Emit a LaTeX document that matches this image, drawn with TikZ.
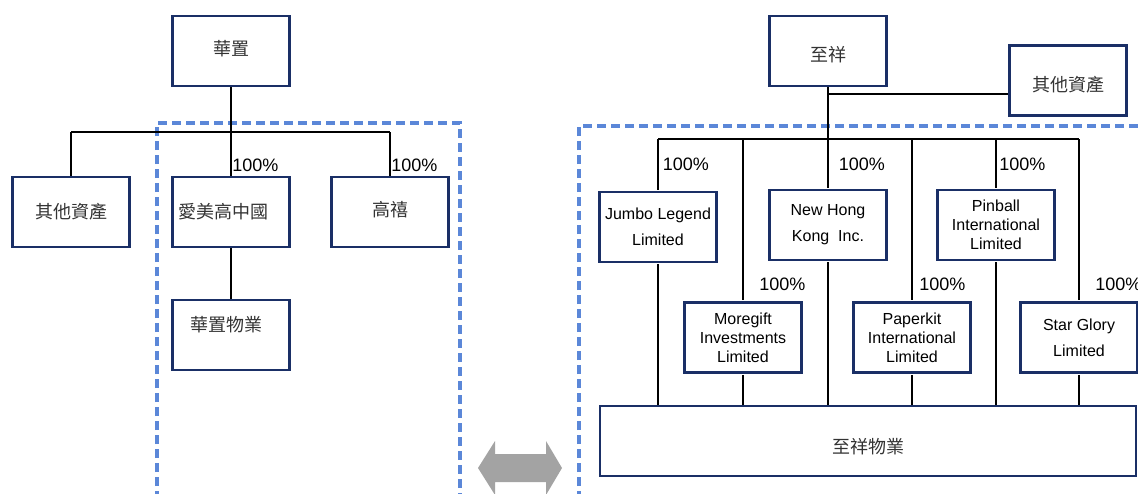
\documentclass[tikz,border=0pt]{standalone}
\usepackage{fontspec}
\setmainfont{Liberation Sans}
\newfontfamily\cjk{Noto Sans CJK TC}
\usepackage{tikz}
\usetikzlibrary{positioning, calc}

\definecolor{boxnavy}{HTML}{1A2F66}
\definecolor{groupblue}{HTML}{5B87D8}
\definecolor{arrowgray}{HTML}{A3A3A3}

% move a label inside its box without changing the box
\newcommand{\nudge}[2]{\raisebox{#1}[\height][\depth]{#2}}

\begin{document}
\begin{tikzpicture}[x=0.75pt, y=-0.75pt,
            company/.style={rectangle, draw=boxnavy, line width=1.9pt, fill=white, minimum width=87.75pt, minimum height=52.5pt, inner sep=0pt, align=center, font=\fontsize{12}{14.25}\selectfont},
            cn/.style={company, font=\cjk\fontsize{13.5}{16}\selectfont, text=black!80},
            link/.style={line width=1.7pt},
            group/.style={draw=groupblue, line width=2.6pt, dash pattern=on 6.5pt off 4pt},
            pct/.style={anchor=base west, inner sep=0pt, font=\fontsize{13.5}{16}\selectfont}
        ]
\useasboundingbox (0,0) rectangle (1138,493);
\clip (0,0) rectangle (1138,493);

% Group boundaries
            \draw[group] (157,500) -- (157,123) -- (460,123) -- (460,500);
            \draw[group] (579,500) -- (579,126) -- (1150,126);

% Left structure
            \node[cn] (hz) at (231,51) {\nudge{1.5pt}{華置}};
            \node[cn] (other_l) at (71,212) {其他資產};
            \node[cn] (amg) at (231,212) {\hspace*{-12pt}愛美高中國};
            \node[cn] (gx) at (390,212) {\nudge{1.5pt}{高禧}};
            \node[cn] (hz_prop) at (231,335) {\hspace*{-7.5pt}\nudge{7.5pt}{華置物業}};

            \coordinate (hz_bus) at (231,132);
            \draw[link] (hz) -- (hz_bus);
            \draw[link] (hz_bus -| other_l.north) -- (hz_bus -| gx.north);
            \draw[link] (hz_bus -| other_l.north) -- (other_l);
            \draw[link] (hz_bus) -- (amg);
            \draw[link] (hz_bus -| gx.north) -- (gx);
            \draw[link] (amg) -- (hz_prop);

            \node[pct] (pct_amg) at ($(amg.north)+(1,-4)$) {100\%};
            \node[pct] (pct_gx) at ($(gx.north)+(1,-4)$) {100\%};

% Right structure
            \node[cn] (zx) at (828,51) {\nudge{-2.6pt}{至祥}};
            \node[cn] (other_r) at (1068,80.5) {\nudge{-3.4pt}{其他資產}};

            \node[company, font=\fontsize{12}{19.5}\selectfont] (jumbo) at (658,227) {Jumbo Legend\\Limited};
            \node[company, font=\fontsize{12}{19.5}\selectfont] (nhk) at (828,225) {New Hong\\Kong\ \ Inc.};
            \node[company] (pinball) at (996,225) {Pinball\\International\\Limited};
            \node[company] (moregift) at (743,337.5) {Moregift\\Investments\\Limited};
            \node[company] (paperkit) at (912,337.5) {Paperkit\\International\\Limited};
            \node[company, font=\fontsize{12}{19.5}\selectfont] (star) at (1079,337.5) {Star Glory\\Limited};

            \node[cn, minimum width=402pt] (zx_prop) at (868,441) {\nudge{-4.5pt}{至祥物業}};

            \coordinate (zx_join) at (828,94);
            \coordinate (zx_bus) at (828,139);
            \draw[link] (zx) -- (zx_bus);
            \draw[link] (zx_join) -- (zx_join -| other_r.west);
            \draw[link] (zx_bus -| jumbo.north) -- (zx_bus -| star.north);

            \foreach \co in {jumbo, moregift, nhk, paperkit, pinball, star} {
                \draw[link] (zx_bus -| \co.north) -- ([yshift=0.75pt]\co.north);
                \draw[link] ([yshift=-0.75pt]\co.south) -- (\co.south |- zx_prop.north);
            }

            \node[pct] (pct_jumbo) at ($(jumbo.north)+(4.5,-20)$) {100\%};
            \node[pct] (pct_nhk) at ($(nhk.north)+(10.5,-18)$) {100\%};
            \node[pct] (pct_pinball) at ($(pinball.north)+(3,-18)$) {100\%};
            \node[pct] (pct_moregift) at ($(moregift.north)+(16,-10.5)$) {100\%};
            \node[pct] (pct_paperkit) at ($(paperkit.north)+(7,-10.5)$) {100\%};
            \node[pct] (pct_star) at ($(star.north)+(16,-10.5)$) {100\%};

% Two-way arrow between groups
            \fill[arrowgray] (478,468) -- (495,441) -- (495,454) -- (546,454) -- (546,441)
                -- (562,468) -- (546,495) -- (546,482) -- (495,482) -- (495,495) -- cycle;

        \end{tikzpicture}
\end{document}
